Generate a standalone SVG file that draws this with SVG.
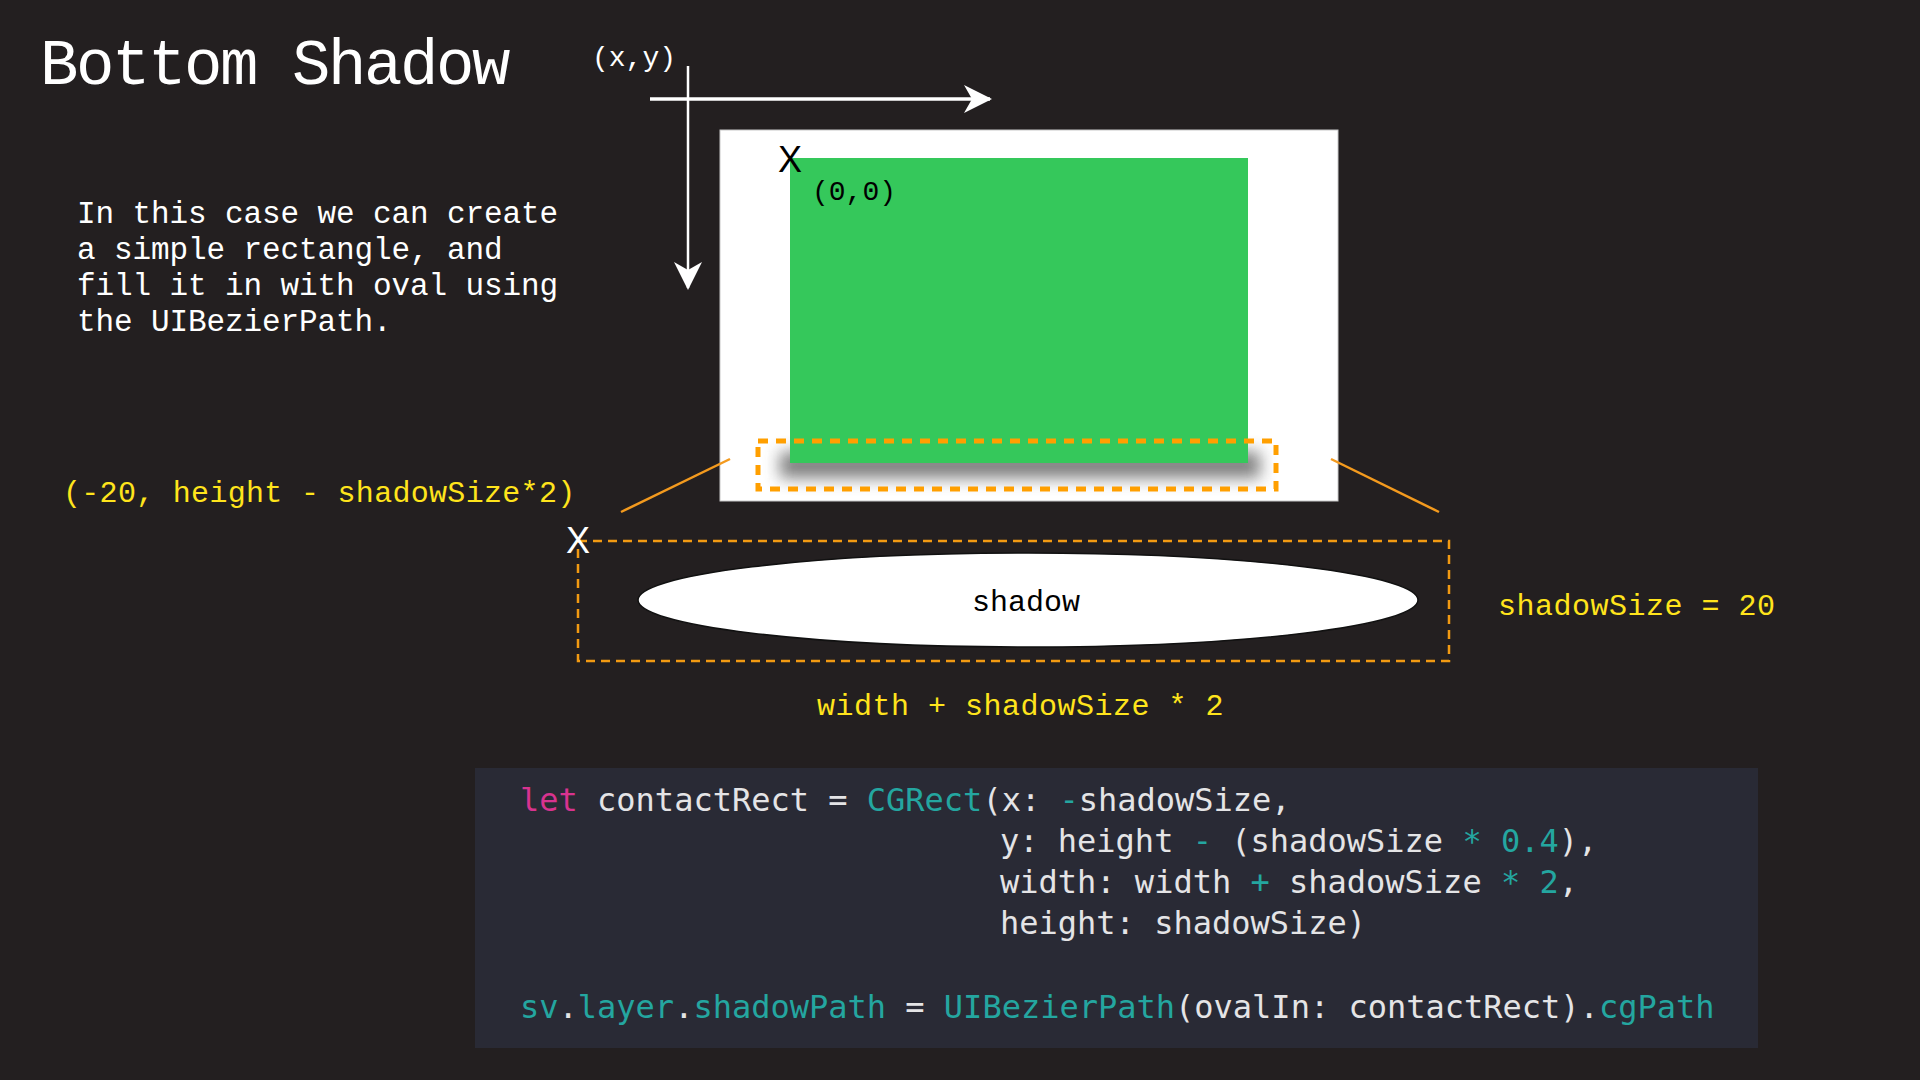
<svg xmlns="http://www.w3.org/2000/svg" width="1920" height="1080" viewBox="0 0 1920 1080">
<defs>
<style>
.mono{font-family:"Liberation Mono","DejaVu Sans Mono",monospace;}
.white{fill:#ffffff;}
.yellow{fill:#ffe41c;}
.code{font-family:"DejaVu Sans Mono","Liberation Mono",monospace;font-size:32px;fill:#e4e4e6;}
.kw{fill:#d8338f;}
.ty{fill:#24a6a0;}
.axis{stroke:#ffffff;fill:none;}
.lead{stroke:#f39a1e;stroke-width:2.5;fill:none;}
</style>
<marker id="arrow" viewBox="0 0 28 28" markerWidth="28" markerHeight="28" refX="26" refY="14" markerUnits="userSpaceOnUse" orient="auto">
<path d="M0,0 L28,14 L0,28 L8,14 Z" fill="#ffffff"/>
</marker>
<filter id="blur" x="-20%" y="-200%" width="140%" height="500%">
<feGaussianBlur stdDeviation="8"/>
</filter>
</defs>
<rect width="1920" height="1080" fill="#231f20"/>

<g id="title">
<text class="mono white" x="40" y="84" font-size="64" letter-spacing="-2.4">Bottom Shadow</text>
</g>

<g id="description" class="mono white" font-size="31" letter-spacing="-0.1">
<text x="77" y="223">In this case we can create</text>
<text x="77" y="259">a simple rectangle, and</text>
<text x="77" y="295">fill it in with oval using</text>
<text x="77" y="331">the UIBezierPath.</text>
</g>

<g id="axes">
<text class="mono white" x="592" y="66" font-size="28">(x,y)</text>
<line class="axis" x1="650" y1="99" x2="990" y2="99" stroke-width="3.5" marker-end="url(#arrow)"/>
<line class="axis" x1="688" y1="66" x2="688" y2="288" stroke-width="2.5" marker-end="url(#arrow)"/>
</g>

<g id="view">
<rect x="720" y="130" width="618" height="371" fill="#ffffff" stroke="#c8c8c8" stroke-width="1"/>
<rect x="780" y="452" width="480" height="26" fill="#4a4a4a" opacity="0.7" filter="url(#blur)"/>
<rect x="790" y="158" width="458" height="305" fill="#35c85b"/>
<text x="790" y="172" font-family="Liberation Sans, Arial, sans-serif" font-size="36" fill="#000000" text-anchor="middle">X</text>
<text class="mono" x="812" y="200" font-size="28" fill="#000000">(0,0)</text>
<rect x="758" y="441" width="518" height="48" fill="none" stroke="#ff9f00" stroke-width="5" stroke-dasharray="10 8"/>
</g>

<g id="connectors">
<line class="lead" x1="730" y1="459" x2="621" y2="512"/>
<line class="lead" x1="1331" y1="459" x2="1439" y2="512"/>
</g>

<g id="origin-label">
<text class="mono yellow" x="63" y="502" font-size="30" letter-spacing="0.3">(-20, height - shadowSize*2)</text>
</g>

<g id="contact-rect">
<rect x="578" y="541" width="871" height="120" fill="none" stroke="#f29a12" stroke-width="2.5" stroke-dasharray="9 6"/>
<text x="578" y="553" font-family="Liberation Sans, Arial, sans-serif" font-size="36" fill="#ffffff" text-anchor="middle">X</text>
</g>

<g id="shadow-oval">
<ellipse cx="1028" cy="600" rx="390" ry="47" fill="#ffffff" stroke="#111111" stroke-width="1.5"/>
<text class="mono" x="1026" y="611" font-size="30" fill="#000000" text-anchor="middle">shadow</text>
</g>

<g id="size-labels">
<text class="mono yellow" x="1498" y="615" font-size="30" letter-spacing="0.5">shadowSize = 20</text>
<text class="mono yellow" x="817" y="715" font-size="30" letter-spacing="0.5">width + shadowSize * 2</text>
</g>

<g id="code-block">
<rect x="475" y="768" width="1283" height="280" fill="#292a35"/>
<text class="code" x="520" y="811" xml:space="preserve"><tspan class="kw">let</tspan> contactRect = <tspan class="ty">CGRect</tspan>(x: <tspan class="ty">-</tspan>shadowSize,</text>
<text class="code" x="1000" y="852" xml:space="preserve">y: height <tspan class="ty">-</tspan> (shadowSize <tspan class="ty">*</tspan> <tspan class="ty">0.4</tspan>),</text>
<text class="code" x="1000" y="893" xml:space="preserve">width: width <tspan class="ty">+</tspan> shadowSize <tspan class="ty">*</tspan> <tspan class="ty">2</tspan>,</text>
<text class="code" x="1000" y="934" xml:space="preserve">height: shadowSize)</text>
<text class="code" x="520" y="1018" xml:space="preserve"><tspan class="ty">sv</tspan>.<tspan class="ty">layer</tspan>.<tspan class="ty">shadowPath</tspan> = <tspan class="ty">UIBezierPath</tspan>(ovalIn: contactRect).<tspan class="ty">cgPath</tspan></text>
</g>
</svg>
